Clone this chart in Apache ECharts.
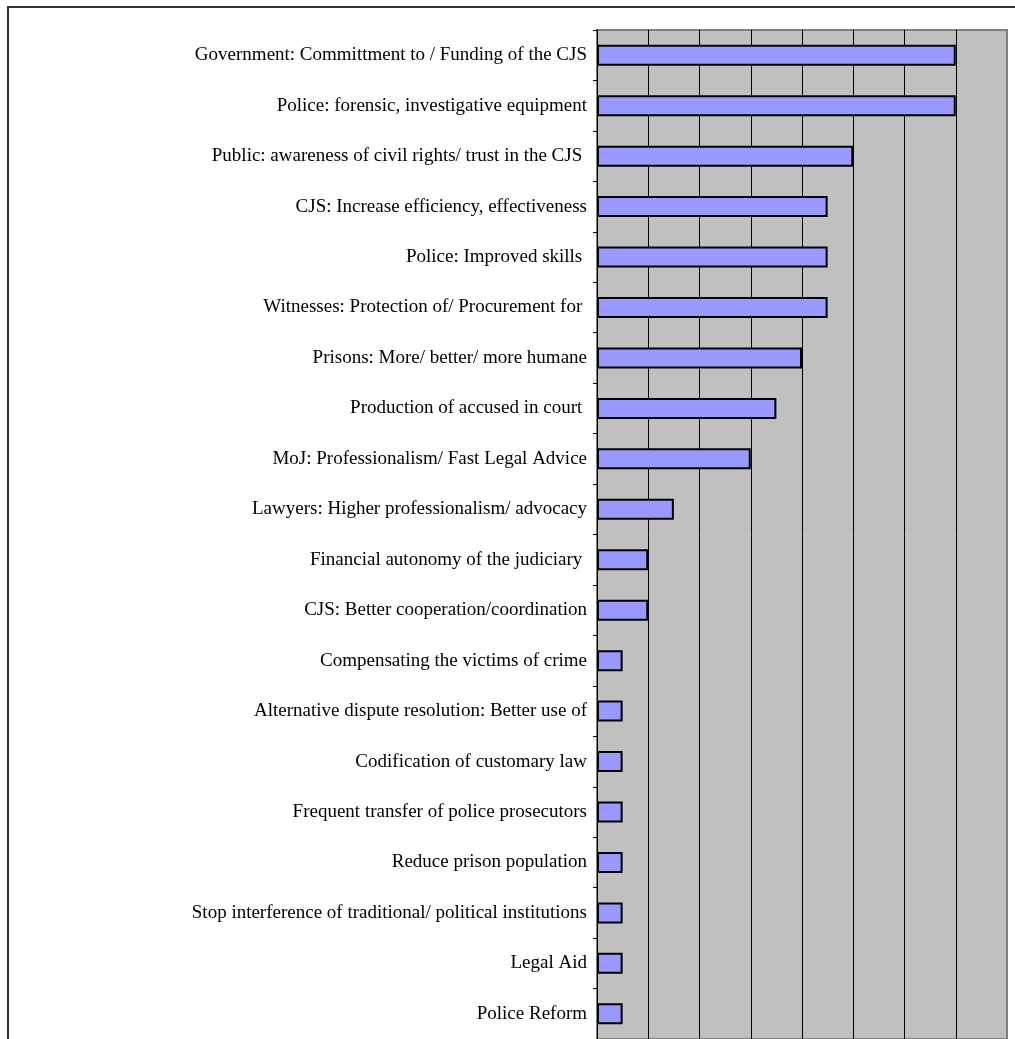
<!DOCTYPE html>
<html>
<head>
<meta charset="utf-8">
<script src="https://cdn.jsdelivr.net/npm/echarts@6/dist/echarts.min.js"></script>
<style>
  html, body { margin: 0; padding: 0; background: #ffffff; }
  #chart { width: 1015px; height: 1039px; }
</style>
</head>
<body>
<div id="chart"></div>
<script>
// categories, top to bottom
const categories = [
  'Government: Committment to / Funding of the CJS',
  'Police: forensic, investigative equipment',
  'Public: awareness of civil rights/ trust in the CJS ',
  'CJS: Increase efficiency, effectiveness',
  'Police: Improved skills ',
  'Witnesses: Protection of/ Procurement for ',
  'Prisons: More/ better/ more humane',
  'Production of accused in court ',
  'MoJ: Professionalism/ Fast Legal Advice',
  'Lawyers: Higher professionalism/ advocacy',
  'Financial autonomy of the judiciary ',
  'CJS: Better cooperation/coordination',
  'Compensating the victims of crime',
  'Alternative dispute resolution: Better use of',
  'Codification of customary law',
  'Frequent transfer of police prosecutors',
  'Reduce prison population',
  'Stop interference of traditional/ political institutions',
  'Legal Aid',
  'Police Reform'
]

// number of mentions
const mentions = [14, 14, 10, 9, 9, 9, 8, 7, 6, 3, 2, 2, 1, 1, 1, 1, 1, 1, 1, 1]

// value axis (labels fall below the visible area)
const axisMin = 0
const axisMax = 16
const axisStep = 2

const chart = echarts.init(document.getElementById('chart'))

const option = {
  animation: false,
  backgroundColor: '#ffffff',
  graphic: [
    {
      type: 'rect',
      shape: { x: 8, y: 7, width: 1100, height: 1100 },
      style: { fill: 'none', stroke: '#333333', lineWidth: 2 },
      silent: true,
      z: 100
    }
  ],
  grid: {
    left: 597,
    top: 30,
    width: 410,
    height: 1011,
    show: true,
    backgroundColor: '#C0C0C0',
    borderColor: '#808080',
    borderWidth: 2
  },
  xAxis: {
    type: 'value',
    min: axisMin,
    max: axisMax,
    interval: axisStep,
    axisLine: { show: false },
    axisTick: { show: false },
    axisLabel: { show: false },
    splitLine: {
      show: true,
      showMinLine: false,
      showMaxLine: false,
      lineStyle: { color: '#000000', width: 1 }
    }
  },
  yAxis: {
    type: 'category',
    inverse: true,
    data: categories,
    axisLine: { show: true, lineStyle: { color: '#000000', width: 1 } },
    axisTick: { show: true, length: 4, lineStyle: { color: '#000000' } },
    axisLabel: {
      margin: 10,
      color: '#000000',
      fontFamily: 'Liberation Serif',
      fontSize: 19
    },
    splitLine: { show: false }
  },
  series: [
    {
      type: 'bar',
      data: mentions,
      barWidth: 21,
      itemStyle: {
        color: '#9999FF',
        borderColor: '#000000',
        borderWidth: 2
      },
      z: 3
    }
  ]
}

chart.setOption(option)
</script>
</body>
</html>
